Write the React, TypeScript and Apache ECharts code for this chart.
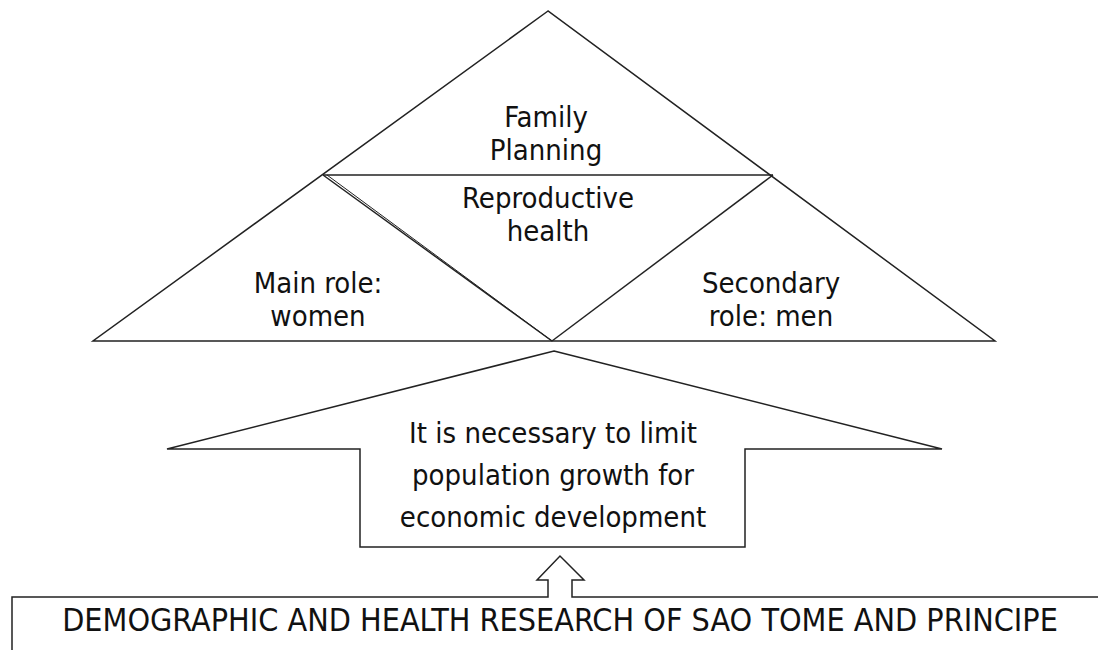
import React, { useEffect, useRef } from "react";
import * as echarts from "echarts";

const topLabel = ["Family", "Planning"];
const centerLabel = ["Reproductive", "health"];
const leftLabel = ["Main role:", "women"];
const rightLabel = ["Secondary", "role: men"];
const arrowLabel = ["It is necessary to limit", "population growth for", "economic development"];
const baseLabel = ["DEMOGRAPHIC AND HEALTH RESEARCH OF SAO TOME AND PRINCIPE"];

const FONT = "DejaVu Sans Condensed, DejaVu Sans, sans-serif";
const STROKE = "#222";

export default function App() {
  const ref = useRef<HTMLDivElement>(null);
  useEffect(() => {
    if (!ref.current) return;
    const chart = echarts.init(ref.current, null, { renderer: "svg" });
    const line = (x1: number, y1: number, x2: number, y2: number, w = 1.5) => ({
      type: "line",
      shape: { x1, y1, x2, y2 },
      style: { stroke: STROKE, lineWidth: w },
      silent: true,
    });
    const text = (lines: string[], x: number, y: number, size: number, lh: number) => ({
      type: "text",
      x,
      y,
      style: {
        text: lines.join("\n"),
        fontSize: size,
        fontFamily: FONT,
        fill: "#111",
        align: "center",
        verticalAlign: "middle",
        lineHeight: lh,
      },
      silent: true,
    });
    chart.setOption({
      animation: false,
      backgroundColor: "#fff",
      graphic: [
        // outer triangle
        {
          type: "polygon",
          shape: { points: [[548, 11], [93, 341], [995, 341]] },
          style: { fill: "none", stroke: STROKE, lineWidth: 1.5 },
          silent: true,
        },
        line(323, 175, 773, 175),
        line(323, 175, 552, 341),
        line(327, 175, 552, 341, 1),
        line(773, 175, 552, 341),
        // big arrow
        {
          type: "polygon",
          shape: {
            points: [
              [554, 351], [942, 449], [745, 449], [745, 547],
              [360, 547], [360, 449], [167, 449],
            ],
          },
          style: { fill: "none", stroke: STROKE, lineWidth: 1.5 },
          silent: true,
        },
        // small hollow arrow + base box
        {
          type: "polyline",
          shape: {
            points: [
              [12, 650], [12, 597], [548, 597], [548, 580], [537, 580],
              [560, 556], [584, 580], [572, 580], [572, 597], [1098, 597],
            ],
          },
          style: { fill: "none", stroke: STROKE, lineWidth: 1.5 },
          silent: true,
        },
        text(topLabel, 546, 133, 29, 33),
        text(centerLabel, 548, 214, 29, 33),
        text(leftLabel, 318, 299, 29, 33),
        text(rightLabel, 771, 299, 29, 33),
        text(arrowLabel, 553, 475, 29, 42),
        text(baseLabel, 560, 620, 32, 34),
      ],
    });
    return () => chart.dispose();
  }, []);
  return (
    <div
      ref={ref}
      style={{ position: "absolute", left: 0, top: 0, width: 1098, height: 650 }}
    />
  );
}
